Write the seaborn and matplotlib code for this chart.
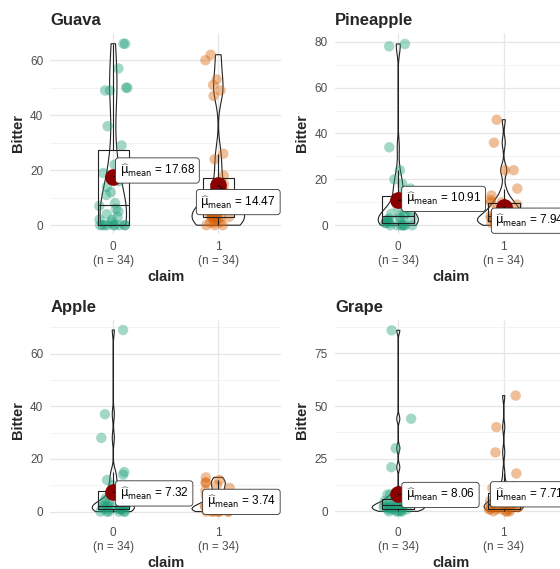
import numpy as np
import pandas as pd
import seaborn as sns
import matplotlib.pyplot as plt

# Bitter scores by fruit and claim (34 per group)
guava_0 = [0, 0, 0, 0, 0, 0, 0, 0, 0, 1, 2, 2, 3, 4, 5, 6, 7, 8, 11, 12, 14, 16, 17,
           19, 22, 29, 36, 49, 49, 50, 50, 57, 66, 66]
guava_1 = [0, 0, 0, 1, 1, 1, 2, 2, 3, 3, 3, 3, 3, 3, 4, 4, 4, 5, 5, 6, 7, 7, 8, 12,
           15, 18, 24, 26, 47, 49, 51, 53, 60, 62]
pineapple_0 = [0, 0, 0, 0, 0, 0, 0, 1, 1, 1, 2, 2, 2, 3, 3, 3, 4, 4, 5, 5, 6, 7, 8, 8,
               9, 14, 14, 16, 18, 20, 24, 34, 78, 79]
pineapple_1 = [0, 0, 0, 0, 1, 1, 1, 1, 2, 2, 2, 2, 3, 3, 3, 3, 4, 4, 5, 6, 6, 7, 7, 8,
               9, 10, 10, 11, 13, 16, 24, 24, 36, 46]
apple_0 = [0, 0, 0, 0, 0, 0, 1, 1, 1, 1, 1, 1, 2, 2, 2, 2, 2, 2, 3, 3, 3, 4, 4, 5, 7,
           8, 9, 10, 12, 14, 15, 28, 37, 69]
apple_1 = [0, 0, 0, 0, 0, 0, 0, 0, 1, 1, 1, 1, 1, 1, 2, 2, 2, 2, 3, 3, 3, 3, 5, 5, 5,
           6, 6, 8, 9, 10, 11, 11, 12, 13]
grape_0 = [0, 0, 0, 0, 0, 1, 1, 1, 1, 1, 2, 2, 2, 2, 2, 3, 3, 3, 3, 4, 4, 4, 5, 5, 6,
           6, 7, 8, 8, 9, 21, 30, 44, 86]
grape_1 = [0, 0, 0, 0, 1, 1, 1, 1, 1, 2, 2, 2, 2, 3, 3, 3, 3, 4, 4, 4, 5, 5, 6, 7, 8,
           9, 10, 11, 11, 12, 18, 28, 40, 55]

fruits = ["Guava", "Pineapple", "Apple", "Grape"]
claims = ["0", "1"]
values = {
    "Guava": [guava_0, guava_1],
    "Pineapple": [pineapple_0, pineapple_1],
    "Apple": [apple_0, apple_1],
    "Grape": [grape_0, grape_1],
}

rows = []
for f in fruits:
    for c, v in zip(claims, values[f]):
        rows += [(f, c, x) for x in v]
df = pd.DataFrame(rows, columns=["fruit", "claim", "Bitter"])

# layout per panel: axes rect (pixels), y limits, y ticks, mean label positions
W, H = 560, 569
layout = {
    "Guava": dict(px=(50.3, 33, 231, 201), ylim=(-3.2, 69.9), ticks=[0, 20, 40, 60],
                  lab=[(0.42, 19.9), (1.19, 8.4)]),
    "Pineapple": dict(px=(335, 33, 232, 201), ylim=(-3.8, 83.8), ticks=[0, 20, 40, 60, 80],
                      lab=[(0.43, 11.5), (1.25, 2.0)]),
    "Apple": dict(px=(50.3, 320, 231, 200), ylim=(-3.2, 72.8), ticks=[0, 20, 40, 60],
                  lab=[(0.39, 6.9), (1.22, 3.7)]),
    "Grape": dict(px=(335, 320, 232, 200), ylim=(-4.1, 90.9), ticks=[0, 25, 50, 75],
                  lab=[(0.40, 7.8), (1.24, 8.1)]),
}
palette = {"0": "#1B9E77", "1": "#D95F02"}


def nrd0(kde):
    # R's default bandwidth (bw.nrd0), as a factor of the sd
    d = kde.dataset[0]
    sd = np.std(d, ddof=1)
    iqr = np.subtract(*np.percentile(d, [75, 25]))
    lo = min(sd, iqr / 1.34) or sd
    return 0.9 * lo * len(d) ** -0.2 / sd


sns.set_theme(style="whitegrid")
plt.rcParams["font.family"] = ["Liberation Sans", "DejaVu Sans"]
np.random.seed(3)

fig = plt.figure(figsize=(W / 100, H / 100), dpi=100)

for f in fruits:
    lay = layout[f]
    x0, y0, w, h = lay["px"]
    ax = fig.add_axes([x0 / W, 1 - (y0 + h) / H, w / W, h / H])
    sub = df[df["fruit"] == f]

    sns.stripplot(data=sub, x="claim", y="Bitter", hue="claim", order=claims,
                  palette=palette, jitter=0.14, size=7.5, alpha=0.4, linewidth=0,
                  legend=False, ax=ax, zorder=2)
    sns.boxplot(data=sub, x="claim", y="Bitter", order=claims, width=0.3, fill=False,
                color="#222222", showfliers=False, showcaps=False, linewidth=0.8, ax=ax)
    sns.violinplot(data=sub, x="claim", y="Bitter", order=claims, width=0.5, fill=False,
                   color="#222222", inner=None, cut=0, density_norm="area",
                   common_norm=True, bw_method=nrd0, linewidth=0.8, ax=ax)
    sns.pointplot(data=sub, x="claim", y="Bitter", order=claims, estimator="mean",
                  errorbar=None, color="darkred", linestyle="none", markersize=12,
                  markeredgewidth=0, ax=ax)

    means = sub.groupby("claim")["Bitter"].mean()
    counts = sub.groupby("claim")["Bitter"].count()
    for i, c in enumerate(claims):
        lx, ly = lay["lab"][i]
        ax.annotate(r"$\widehat{\mathrm{\mu}}_{\mathrm{mean}}$" + f" = {means[c]:.2f}",
                    xy=(i, means[c]), xytext=(lx, ly), ha="center", va="center",
                    fontsize=8.5, color="black", zorder=10,
                    bbox=dict(boxstyle="round,pad=0.35,rounding_size=0.25", fc="white",
                              ec="#333333", lw=0.6),
                    arrowprops=dict(arrowstyle="-", color="black", lw=0.7,
                                    shrinkA=0, shrinkB=0))

    ax.set_xlim(-0.6, 1.6)
    ax.set_ylim(*lay["ylim"])
    ax.set_yticks(lay["ticks"])
    step = lay["ticks"][1] - lay["ticks"][0]
    ax.set_yticks(np.arange(step / 2, lay["ylim"][1], step), minor=True)
    ax.set_xticks([0, 1])
    ax.set_xticklabels([f"{c}\n(n = {counts[c]})" for c in claims])
    ax.grid(True, which="major", color="#E6E6E6", lw=0.9)
    ax.grid(True, which="minor", axis="y", color="#F1F1F1", lw=0.6)
    ax.set_axisbelow(True)
    for s in ax.spines.values():
        s.set_visible(False)
    ax.tick_params(axis="both", which="major", length=3, width=0.8, color="#333333",
                   labelcolor="#4D4D4D", labelsize=8.5, pad=2)
    ax.tick_params(axis="both", which="minor", length=0)
    ax.set_title(f, loc="left", fontsize=12, fontweight="bold", pad=6)
    ax.set_ylabel("Bitter", fontsize=10.5, fontweight="bold", labelpad=4)
    ax.set_xlabel("claim", fontsize=10.5, fontweight="bold", labelpad=2)

fig.savefig("out.png", dpi=100, facecolor="white")
